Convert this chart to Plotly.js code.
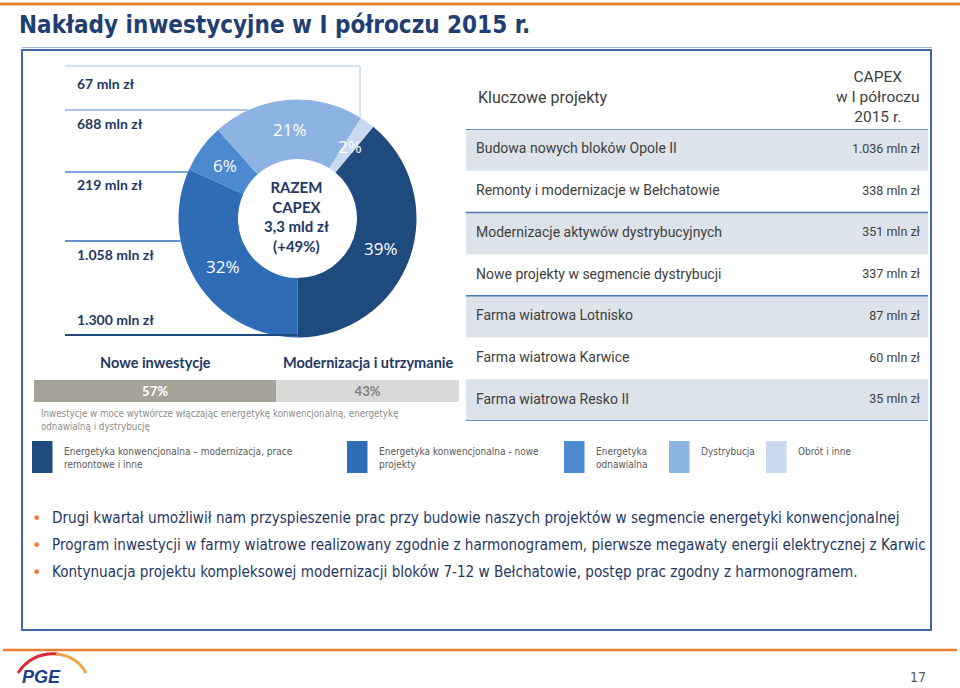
<!DOCTYPE html>
<html>
<head>
<meta charset="utf-8">
<script src="https://cdn.plot.ly/plotly-3.0.1.min.js"></script>
<style>html,body{margin:0;padding:0;background:#fff;}#chart{width:960px;height:688px;}</style>
</head>
<body>
<div id="chart"></div>
<script>
// ---------------- DATA ----------------
const slideTitle = "Nakłady inwestycyjne w I półroczu 2015 r.";
const segments = ["Energetyka konwencjonalna – modernizacja, prace remontowe i inne",
  "Energetyka konwencjonalna - nowe projekty", "Energetyka odnawialna", "Dystrybucja", "Obrót i inne"];
const segmentLegend = ["Energetyka konwencjonalna – modernizacja, prace<br>remontowe i inne",
  "Energetyka konwencjonalna - nowe<br>projekty", "Energetyka<br>odnawialna", "Dystrybucja", "Obrót i inne"];
const capexMln = [1300, 1058, 219, 688, 67];
const capexPct = ["39%", "32%", "6%", "21%", "2%"];
const capexLabels = ["1.300 mln zł", "1.058 mln zł", "219 mln zł", "688 mln zł", "67 mln zł"];
const capexGrowth = "(+49%)";

const tableHeader = ["Kluczowe projekty", "CAPEX<br>w I półroczu<br>2015 r."];
const projects = ["Budowa nowych bloków Opole II", "Remonty i modernizacje w Bełchatowie",
  "Modernizacje aktywów dystrybucyjnych", "Nowe projekty w segmencie dystrybucji",
  "Farma wiatrowa Lotnisko", "Farma wiatrowa Karwice", "Farma wiatrowa Resko II"];
const projectCapex = ["1.036 mln zł", "338 mln zł", "351 mln zł", "337 mln zł", "87 mln zł", "60 mln zł", "35 mln zł"];

const splitNames = ["Nowe inwestycje", "Modernizacja i utrzymanie"];
const splitPct = [57, 43];
const splitNote = "Inwestycje w moce wytwórcze włączając energetykę konwencjonalną, energetykę<br>odnawialną i dystrybucję";

const bullets = [
  "Drugi kwartał umożliwił nam przyspieszenie prac przy budowie naszych projektów w segmencie energetyki konwencjonalnej",
  "Program inwestycji w farmy wiatrowe realizowany zgodnie z harmonogramem, pierwsze megawaty energii elektrycznej z Karwic",
  "Kontynuacja projektu kompleksowej modernizacji bloków 7-12 w Bełchatowie, postęp prac zgodny z harmonogramem."
];
const pageNumber = "17";

// ---------------- STYLE / LAYOUT CONSTANTS ----------------
const W = 960, H = 688;
const px = x => x / W;
const py = y => 1 - y / H;
const NAVY = "#1F3864";
const sliceColors = ["#1F4A7E", "#2E6CB6", "#4C89CF", "#8CB3E1", "#C9D9EF"];
const PIE = {cx: 297.5, cy: 218.5, r: 119, hole: 0.5};
const labelLineY = [335, 241, 172, 110, 66];
const labelTextY = [319, 254, 185, 124, 83];
const legendX = [32, 347, 564, 669, 766];
const TBL = {x0: 466, x1: 928, top: 129, bottom: 421, nameX: 476, valueX: 920};
const sepRows = [0, 2, 4, 7];
const bulletY = [518, 545, 572];

const total = capexMln.reduce((a, b) => a + b, 0);
const rotation = 180 - 360 * capexMln[0] / total;
const rowIdx = projects.map((p, i) => i);

const traces = [];
// Donut
traces.push({
  type: "pie", values: capexMln, labels: segments, sort: false, direction: "clockwise",
  rotation: rotation, hole: PIE.hole, textinfo: "none", hoverinfo: "label+value",
  marker: {colors: sliceColors, line: {width: 0}},
  domain: {x: [px(PIE.cx - PIE.r), px(PIE.cx + PIE.r)], y: [py(PIE.cy + PIE.r), py(PIE.cy - PIE.r)]},
  showlegend: false
});
// 57/43 split bar
splitPct.forEach((v, i) => {
  traces.push({
    type: "bar", orientation: "h", x: [v], y: ["split"], name: splitNames[i],
    marker: {color: i === 0 ? "#A5A397" : "#D9D9D9", line: {width: 0}},
    text: [v + "%"], textposition: "inside", insidetextanchor: "middle",
    textfont: {family: "Lato", size: 14, weight: "bold", color: i === 0 ? "#FFFFFF" : "#808080"},
    xaxis: "x", yaxis: "y", hoverinfo: "name+x", showlegend: false
  });
});
// Key projects table: names and CAPEX values on a row axis
traces.push({
  type: "scatter", mode: "text", x: projects.map(() => TBL.nameX), y: rowIdx, text: projects,
  textposition: "middle right", textfont: {family: "Roboto", size: 14, color: "#404040"},
  xaxis: "x2", yaxis: "y2", hoverinfo: "none", showlegend: false, cliponaxis: false
});
traces.push({
  type: "scatter", mode: "text", x: projects.map(() => TBL.valueX), y: rowIdx, text: projectCapex,
  textposition: "middle left", textfont: {family: "Roboto", size: 12.5, color: "#404040"},
  xaxis: "x2", yaxis: "y2", hoverinfo: "none", showlegend: false, cliponaxis: false
});

// ---------------- SHAPES ----------------
const shapes = [];
shapes.push({type: "line", xref: "paper", yref: "paper", x0: 0, x1: 1, y0: py(4), y1: py(4), line: {color: "#E8802F", width: 3}});
shapes.push({type: "line", xref: "paper", yref: "paper", x0: px(22), x1: px(932), y0: py(47.5), y1: py(47.5), line: {color: "#9DB5D8", width: 1}});
shapes.push({type: "rect", xref: "paper", yref: "paper", x0: px(22), x1: px(931), y0: py(630), y1: py(50), line: {color: "#3D68AD", width: 2}, layer: "below"});
shapes.push({type: "line", xref: "paper", yref: "paper", x0: px(3), x1: px(957), y0: py(650), y1: py(650), line: {color: "#ED7D31", width: 2.5}});

// table row shading and separators
rowIdx.forEach(i => {
  if (i % 2 === 0) shapes.push({type: "rect", xref: "x2 domain", yref: "y2", x0: 0, x1: 1, y0: i - 0.5, y1: i + 0.5,
    fillcolor: "#DCE3EA", line: {width: 0}, layer: "below"});
});
sepRows.forEach(k => {
  shapes.push({type: "line", xref: "x2 domain", yref: "y2", x0: 0, x1: 1, y0: k - 0.5, y1: k - 0.5, line: {color: "#4A78B8", width: 1.5}});
});

// label bracket lines to the donut
let cum = 0;
const sliceStart = [], sliceMid = [];
capexMln.forEach(v => {
  const a0 = rotation + 360 * cum / total;
  const a1 = rotation + 360 * (cum + v) / total;
  sliceStart.push(a0); sliceMid.push((a0 + a1) / 2);
  cum += v;
});
labelLineY.forEach((y, i) => {
  const dy = y - PIE.cy;
  let xEnd;
  if (i === 0) xEnd = PIE.cx;
  else if (Math.abs(dy) < PIE.r) xEnd = PIE.cx - Math.sqrt(PIE.r * PIE.r - dy * dy);
  else {
    xEnd = PIE.cx + PIE.r * Math.sin(sliceStart[i] * Math.PI / 180) - 1;
    const yEdge = PIE.cy - Math.sqrt(PIE.r * PIE.r - (xEnd - PIE.cx) * (xEnd - PIE.cx));
    shapes.push({type: "line", xref: "paper", yref: "paper", x0: px(xEnd), x1: px(xEnd), y0: py(y), y1: py(yEdge), line: {color: sliceColors[i], width: 1.5}});
  }
  shapes.push({type: "line", xref: "paper", yref: "paper", x0: px(65), x1: px(xEnd), y0: py(y), y1: py(y), line: {color: sliceColors[i], width: i === 0 ? 2 : 1.5}});
});

// legend swatches
legendX.forEach((x, i) => {
  shapes.push({type: "rect", xref: "paper", yref: "paper", x0: px(x), x1: px(x + 20.5), y0: py(473), y1: py(441), fillcolor: sliceColors[i], line: {width: 0}});
});

// PGE logo arcs
shapes.push({type: "path", xref: "paper", yref: "paper", path: `M ${px(18)} ${py(673)} Q ${px(32)} ${py(652)} ${px(58)} ${py(654)}`, line: {color: "#D9282F", width: 3}});
shapes.push({type: "path", xref: "paper", yref: "paper", path: `M ${px(56)} ${py(654)} Q ${px(77)} ${py(656)} ${px(86)} ${py(673)}`, line: {color: "#F0A24A", width: 3}});

// ---------------- ANNOTATIONS ----------------
const ann = [];
const A = (o) => Object.assign({xref: "paper", yref: "paper", showarrow: false}, o);
ann.push(A({x: px(17), y: py(25), xanchor: "left", yanchor: "middle", text: "<b>" + slideTitle + "</b>",
  font: {family: "DejaVu Sans Condensed", size: 24, color: "#1F3F73"}}));

// table header
ann.push(A({x: px(TBL.nameX), y: py(97), xanchor: "left", yanchor: "middle", text: tableHeader[0],
  font: {family: "Roboto", size: 16, color: "#404040"}}));
ann.push(A({x: px(878), y: py(97), xanchor: "center", yanchor: "middle", align: "center", text: tableHeader[1],
  font: {family: "Roboto", size: 15.5, color: "#404040"}}));

// donut value labels
capexLabels.forEach((t, i) => {
  ann.push(A({x: px(75), y: py(labelTextY[i]), xanchor: "left", yanchor: "middle", text: "<b>" + t + "</b>",
    font: {family: "Lato", size: 14, color: NAVY}}));
});
// percent labels on slices
const rMid = PIE.r * (1 + PIE.hole) / 2;
capexPct.forEach((t, i) => {
  const a = sliceMid[i] * Math.PI / 180;
  ann.push(A({x: px(PIE.cx + rMid * Math.sin(a)), y: py(PIE.cy - rMid * Math.cos(a)), xanchor: "center", yanchor: "middle",
    text: t, font: {family: "Open Sans", size: 17, color: "#FFFFFF"}}));
});
// center
ann.push(A({x: px(PIE.cx - 1), y: py(PIE.cy - 2), xanchor: "center", yanchor: "middle",
  text: "<b>RAZEM<br>CAPEX<br>" + (total / 1000).toFixed(1).replace(".", ",") + " mld zł<br>" + capexGrowth + "</b>",
  font: {family: "Lato", size: 15, color: NAVY}}));

// split labels
let c2 = 0;
splitPct.forEach((v, i) => {
  ann.push(A({xref: "x", x: c2 + v / 2, y: py(362), xanchor: "center", yanchor: "middle",
    text: "<b>" + splitNames[i] + "</b>", font: {family: "Lato", size: 14.5, color: NAVY}}));
  c2 += v;
});
ann.push(A({x: px(39), y: py(419.5), xanchor: "left", yanchor: "middle", align: "left", text: splitNote,
  font: {family: "DejaVu Sans Condensed", size: 9.7, color: "#8C8C8C"}}));

// legend labels
legendX.forEach((x, i) => {
  ann.push(A({x: px(x + 30), y: py(444), xanchor: "left", yanchor: "top", align: "left", text: segmentLegend[i],
    font: {family: "DejaVu Sans Condensed", size: 10, color: "#595959"}}));
});

// bullets
bullets.forEach((t, i) => {
  ann.push(A({x: px(30), y: py(bulletY[i]), xanchor: "left", yanchor: "middle", text: "•", font: {family: "DejaVu Sans", size: 16, color: "#ED7D31"}}));
  ann.push(A({x: px(50), y: py(bulletY[i]), xanchor: "left", yanchor: "middle", text: t, font: {family: "DejaVu Sans Condensed", size: 15.1, color: NAVY}}));
});

// logo text & page number
ann.push(A({x: px(41), y: py(677), xanchor: "center", yanchor: "middle", text: "<b><i>PGE</i></b>", font: {family: "Liberation Sans", size: 18, color: "#1B3F8B"}}));
ann.push(A({x: px(918), y: py(677), xanchor: "center", yanchor: "middle", text: pageNumber, font: {family: "DejaVu Sans Condensed", size: 14, color: "#595959"}}));

const layout = {
  width: W, height: H, margin: {l: 0, r: 0, t: 0, b: 0},
  paper_bgcolor: "#FFFFFF", plot_bgcolor: "rgba(0,0,0,0)",
  showlegend: false, barmode: "stack", bargap: 0,
  xaxis: {domain: [px(34), px(459)], range: [0, 100], visible: false, fixedrange: true},
  yaxis: {domain: [py(402), py(380)], visible: false, fixedrange: true},
  xaxis2: {domain: [px(TBL.x0), px(TBL.x1)], range: [TBL.x0, TBL.x1], visible: false, fixedrange: true, anchor: "y2"},
  yaxis2: {domain: [py(TBL.bottom), py(TBL.top)], range: [projects.length - 0.5, -0.5], visible: false, fixedrange: true, anchor: "x2"},
  shapes: shapes, annotations: ann
};
Plotly.newPlot("chart", traces, layout, {displayModeBar: false, staticPlot: true});
</script>
</body>
</html>
